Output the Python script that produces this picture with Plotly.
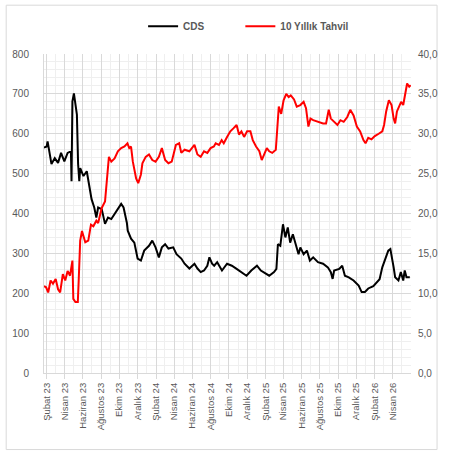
import plotly.graph_objects as go

# CDS (bps), left axis
cds_dates = [
    "2023-01-22", "2023-01-31", "2023-02-03", "2023-02-10", "2023-02-16", "2023-02-27",
    "2023-03-10", "2023-03-20", "2023-03-31", "2023-04-11", "2023-04-22", "2023-04-24",
    "2023-04-27", "2023-05-02", "2023-05-07", "2023-05-12", "2023-05-16", "2023-05-20",
    "2023-05-23", "2023-06-03", "2023-06-14", "2023-06-19", "2023-06-25", "2023-06-30",
    "2023-07-09", "2023-07-16", "2023-07-22", "2023-08-03", "2023-08-14", "2023-08-24",
    "2023-09-04", "2023-09-15", "2023-09-26", "2023-10-07", "2023-10-15", "2023-10-26",
    "2023-10-29", "2023-11-09", "2023-11-20", "2023-12-01", "2023-12-12", "2023-12-23",
    "2024-01-08", "2024-01-19", "2024-01-30", "2024-02-10", "2024-02-20", "2024-03-02",
    "2024-03-13", "2024-03-29", "2024-04-09", "2024-04-25", "2024-05-06", "2024-05-22",
    "2024-06-08", "2024-06-18", "2024-06-29", "2024-07-10", "2024-07-21", "2024-07-28",
    "2024-08-06", "2024-08-13", "2024-08-23", "2024-09-08", "2024-09-25", "2024-10-11",
    "2024-10-27", "2024-11-12", "2024-11-29", "2024-12-15", "2025-01-03", "2025-01-16",
    "2025-02-02", "2025-02-13", "2025-03-01", "2025-03-09", "2025-03-14", "2025-03-22",
    "2025-03-31", "2025-04-08", "2025-04-16", "2025-04-24", "2025-05-03", "2025-05-14",
    "2025-05-22", "2025-05-28", "2025-06-08", "2025-06-19", "2025-06-29", "2025-07-10",
    "2025-07-26", "2025-08-12", "2025-08-28", "2025-09-07", "2025-09-13", "2025-09-18",
    "2025-10-05", "2025-10-15", "2025-10-24", "2025-11-06", "2025-11-22", "2025-12-09",
    "2025-12-19", "2025-12-30", "2026-01-10", "2026-01-27", "2026-02-06", "2026-02-17",
    "2026-02-26", "2026-03-09", "2026-03-18", "2026-03-25", "2026-03-31", "2026-04-05",
    "2026-04-10", "2026-04-21", "2026-04-29", "2026-05-07", "2026-05-12", "2026-05-18",
    "2026-05-29",
]
cds_values = [
    565, 568, 581, 552, 524, 539,
    527, 552, 531, 552, 556, 481,
    681, 701, 673, 648, 524, 481,
    514, 494, 506, 486, 456, 436,
    415, 390, 415, 411, 374, 390,
    386, 399, 411, 424, 415, 377,
    357, 337, 327, 287, 282, 307,
    319, 332, 315, 290, 315, 323,
    312, 315, 298, 287, 274, 262,
    274, 262, 253, 257, 269, 290,
    274, 269, 278, 257, 274, 269,
    261, 253, 244, 257, 269, 257,
    249, 244, 253, 261, 323, 319,
    373, 340, 365, 327, 348, 315,
    298, 315, 298, 307, 282, 290,
    278, 274, 265, 253, 236, 257,
    261, 269, 244, 240, 232, 219,
    203, 203, 212, 218, 225, 235,
    265, 290, 307, 311, 290, 265,
    240, 232, 253, 232, 257, 240,
    240,
]

# 10-year bond yield (%), right axis
bond_dates = [
    "2023-01-22", "2023-01-29", "2023-02-05", "2023-02-13", "2023-02-21", "2023-03-02",
    "2023-03-10", "2023-03-17", "2023-03-26", "2023-04-03", "2023-04-11", "2023-04-19",
    "2023-04-27", "2023-04-30", "2023-05-07", "2023-05-15", "2023-05-18", "2023-05-23",
    "2023-05-29", "2023-06-03", "2023-06-09", "2023-06-19", "2023-06-28", "2023-07-06",
    "2023-07-16", "2023-07-22", "2023-08-03", "2023-08-14", "2023-08-21", "2023-08-27",
    "2023-09-04", "2023-09-15", "2023-09-26", "2023-10-07", "2023-10-18", "2023-10-28",
    "2023-11-03", "2023-11-09", "2023-11-15", "2023-11-20", "2023-11-26", "2023-12-03",
    "2023-12-12", "2023-12-17", "2023-12-28", "2024-01-08", "2024-01-19", "2024-01-30",
    "2024-02-10", "2024-02-20", "2024-03-02", "2024-03-13", "2024-03-24", "2024-04-07",
    "2024-04-18", "2024-04-25", "2024-05-06", "2024-05-22", "2024-06-08", "2024-06-18",
    "2024-06-29", "2024-07-10", "2024-07-21", "2024-08-01", "2024-08-12", "2024-08-18",
    "2024-08-29", "2024-09-07", "2024-09-14", "2024-09-25", "2024-10-06", "2024-10-17",
    "2024-10-27", "2024-11-04", "2024-11-12", "2024-11-21", "2024-12-01", "2024-12-12",
    "2024-12-20", "2024-12-31", "2025-01-11", "2025-01-19", "2025-01-28", "2025-02-05",
    "2025-02-13", "2025-02-23", "2025-03-07", "2025-03-12", "2025-03-17", "2025-03-25",
    "2025-04-02", "2025-04-11", "2025-04-19", "2025-04-26", "2025-05-07", "2025-05-16",
    "2025-05-28", "2025-06-08", "2025-06-16", "2025-06-24", "2025-07-01", "2025-07-10",
    "2025-07-26", "2025-08-12", "2025-08-22", "2025-08-31", "2025-09-07", "2025-09-18",
    "2025-09-29", "2025-10-09", "2025-10-20", "2025-11-01", "2025-11-11", "2025-11-22",
    "2025-12-03", "2025-12-14", "2025-12-25", "2026-01-01", "2026-01-10", "2026-01-21",
    "2026-02-01", "2026-02-14", "2026-02-26", "2026-03-04", "2026-03-11", "2026-03-20",
    "2026-03-29", "2026-04-05", "2026-04-10", "2026-04-16", "2026-04-23", "2026-04-30",
    "2026-05-07", "2026-05-12", "2026-05-20", "2026-05-27", "2026-06-01",
]
bond_values = [
    10.9, 10.75, 10.1, 11.6, 11.2, 11.8,
    10.5, 10.1, 12.4, 11.6, 12.8, 12.2,
    14.1, 9.3, 8.9, 8.9, 11.6, 16.6,
    17.8, 17.0, 16.4, 16.6, 18.6, 18.4,
    19.1, 18.8, 20.7, 21.5, 24.4, 27.1,
    26.5, 26.9, 27.8, 28.2, 28.4, 28.8,
    28.2, 28.4, 26.5, 25.7, 24.4, 23.8,
    24.9, 26.3, 27.1, 27.4, 26.7, 26.5,
    27.1, 28.2, 26.7, 26.3, 26.5, 28.6,
    28.8, 27.6, 28.0, 27.8, 28.6, 27.4,
    27.1, 27.8, 27.6, 28.2, 28.4, 28.8,
    28.6, 29.2, 28.8, 29.6, 30.3, 30.7,
    31.1, 29.9, 30.3, 29.6, 30.3, 30.3,
    29.2, 28.4, 27.8, 26.7, 27.4, 28.2,
    27.8, 27.6, 28.0, 31.1, 33.4, 32.5,
    34.2, 35.0, 34.6, 34.8, 34.3, 33.4,
    33.6, 34.0, 33.2, 30.9, 31.9, 31.7,
    31.5, 31.3, 31.3, 33.0, 31.9, 31.5,
    31.1, 31.7, 31.5, 32.1, 33.0, 32.3,
    30.9, 30.3, 29.2, 28.8, 29.5, 29.3,
    29.7, 30.0, 30.3, 31.1, 32.8, 34.2,
    33.6, 31.9, 31.3, 32.8, 33.4, 34.0,
    33.6, 34.8, 36.3, 35.9, 36.1,
]

tick_dates = [
    "2023-02-01", "2023-04-01", "2023-06-01", "2023-08-01", "2023-10-01", "2023-12-01",
    "2024-02-01", "2024-04-01", "2024-06-01", "2024-08-01", "2024-10-01", "2024-12-01",
    "2025-02-01", "2025-04-01", "2025-06-01", "2025-08-01", "2025-10-01", "2025-12-01",
    "2026-02-01", "2026-04-01",
]
tick_labels = [
    "Şubat 23", "Nisan 23", "Haziran 23", "Ağustos 23", "Ekim 23", "Aralık 23",
    "Şubat 24", "Nisan 24", "Haziran 24", "Ağustos 24", "Ekim 24", "Aralık 24",
    "Şubat 25", "Nisan 25", "Haziran 25", "Ağustos 25", "Ekim 25", "Aralık 25",
    "Şubat 26", "Nisan 26",
]

FONT = "Liberation Sans"
TXT = "#595959"
MAJOR = "#d9d9d9"
MINOR = "#efefef"

fig = go.Figure()
fig.add_trace(go.Scatter(
    x=cds_dates, y=cds_values, name="CDS", mode="lines",
    line=dict(color="#000000", width=2), yaxis="y", legend="legend",
))
fig.add_trace(go.Scatter(
    x=bond_dates, y=bond_values, name="10 Yıllık Tahvil", mode="lines",
    line=dict(color="#ff0000", width=2), yaxis="y2", legend="legend2",
))

legend_font = dict(family=FONT, size=10, color=TXT, weight="bold")

fig.update_layout(
    width=450, height=454,
    margin=dict(l=42, r=30, t=52, b=81),
    paper_bgcolor="white", plot_bgcolor="white",
    separators=",.",
    font=dict(family=FONT, size=10, color=TXT),
    showlegend=True,
    legend=dict(
        orientation="h", x=0.27, xanchor="left", y=1.087, yanchor="middle",
        font=legend_font, bgcolor="rgba(0,0,0,0)",
    ),
    legend2=dict(
        orientation="h", x=0.535, xanchor="left", y=1.087, yanchor="middle",
        font=legend_font, bgcolor="rgba(0,0,0,0)",
    ),
    xaxis=dict(
        type="date", range=["2023-01-22", "2026-06-02"],
        tickmode="array", tickvals=tick_dates, ticktext=tick_labels,
        tickangle=-90, tickfont=dict(family=FONT, size=9.5, color=TXT),
        showgrid=True, gridcolor=MAJOR, gridwidth=1,
        minor=dict(dtick="M1", tick0="2023-01-01", showgrid=True, gridcolor=MINOR, ticks=""),
        showline=True, linecolor=MAJOR, linewidth=1,
        ticks="outside", ticklen=5, tickcolor=MAJOR,
        zeroline=False,
    ),
    yaxis=dict(
        range=[0, 800], dtick=100, tick0=0,
        tickfont=dict(family=FONT, size=10, color=TXT),
        showgrid=True, gridcolor=MAJOR, gridwidth=1,
        minor=dict(dtick=20, showgrid=True, gridcolor=MINOR),
        showline=True, linecolor=MAJOR, zeroline=False,
        ticklabelstandoff=12,
    ),
    yaxis2=dict(
        range=[0, 40], dtick=5, tick0=0, tickformat=".1f",
        overlaying="y", side="right",
        tickfont=dict(family=FONT, size=10, color=TXT),
        showgrid=False, zeroline=False, showline=False,
        ticklabelstandoff=6,
    ),
    shapes=[
        dict(type="rect", xref="paper", yref="paper",
             x0=-0.103, x1=1.071, y0=-0.240, y1=1.153,
             line=dict(color=MAJOR, width=1), fillcolor="rgba(0,0,0,0)", layer="below"),
    ],
)

fig.write_html("out.html")
